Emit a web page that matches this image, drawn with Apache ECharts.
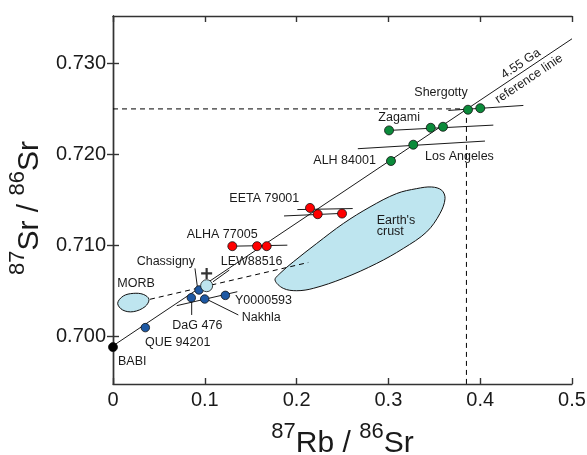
<!DOCTYPE html>
<html><head><meta charset="utf-8">
<script src="https://cdn.jsdelivr.net/npm/echarts@6/dist/echarts.min.js"></script>
<style>html,body{margin:0;padding:0;background:#fff}#c{width:587px;height:455px}</style>
</head><body><div id="c"></div>
<script>
const FONT = '"Liberation Sans", Arial, Helvetica, sans-serif';

// axis ranges and tick labels
const xRange = [0, 0.5];
const yRange = [0.6948, 0.7352];
const xTicks = [0, 0.1, 0.2, 0.3, 0.4, 0.5];
const yTicks = [0.700, 0.710, 0.720, 0.730];

// 4.55 Ga reference line end points [87Rb/86Sr, 87Sr/86Sr]
const refLine = [[0, 0.69899], [0.5, 0.7327]];

// data points
const babiPts = [[0, 0.69885]];
const bluePts = [[0.0352, 0.70099], [0.0853, 0.70427], [0.0937, 0.70512], [0.0999, 0.70413], [0.1224, 0.70453]];
const lightPts = [[0.102, 0.70559]];
const plusPts = [[0.102, 0.70694]];
const redPts = [[0.130, 0.70993], [0.1569, 0.70993], [0.1674, 0.70993], [0.2146, 0.71413], [0.2230, 0.71344], [0.2495, 0.71351]];
const greenPts = [[0.3028, 0.71928], [0.3271, 0.72107], [0.3007, 0.72264], [0.3461, 0.72293], [0.3595, 0.72304], [0.3867, 0.72491], [0.4001, 0.72508]];

// isochron tie lines
const tieLines = [
  [[0.0694, 0.7034], [0.1354, 0.70493]],
  [[0.130, 0.70993], [0.1899, 0.71004]],
  [[0.2008, 0.71395], [0.2611, 0.71406]],
  [[0.1863, 0.71325], [0.2473, 0.71352]],
  [[0.2667, 0.72063], [0.4052, 0.72147]],
  [[0.3007, 0.72264], [0.4143, 0.72322]],
  [[0.3653, 0.72483], [0.4470, 0.72538]]
];
// label leader lines
const leaderLines = [
  [[0.0893, 0.70749], [0.0920, 0.70539]],
  [[0.1089, 0.70602], [0.1267, 0.70731]],
  [[0.0857, 0.70421], [0.0857, 0.70238]],
  [[0.1021, 0.70410], [0.1365, 0.70238]]
];
// dashed lines
const dashedLines = [
  [[0, 0.725], [0.385, 0.725]],
  [[0.385, 0.725], [0.385, 0.6948]],
  [[0.0403, 0.7041], [0.2127, 0.70814]]
];
// fields
const crustField = [[0.1765,0.70621],[0.1855,0.70530],[0.2001,0.70504],[0.2182,0.70530],[0.2509,0.70640],[0.2873,0.70804],[0.3162,0.70968],[0.3417,0.71150],[0.3562,0.71352],[0.3617,0.71516],[0.3581,0.71607],[0.3472,0.71643],[0.3308,0.71625],[0.3090,0.71571],[0.2800,0.71424],[0.2509,0.71242],[0.2219,0.71023],[0.1964,0.70821],[0.1819,0.70694]];
const morbField = [[0.0051,0.70366],[0.0112,0.70446],[0.0221,0.70475],[0.0330,0.70464],[0.0392,0.70410],[0.0349,0.70329],[0.0221,0.70274],[0.0106,0.70292]];

// text labels [x, y, text]
const labels = [
  [0.0054, 0.69726, 'BABI'],
  [0.0349, 0.69934, 'QUE 94201'],
  [0.0646, 0.70125, 'DaG 476'],
  [0.1402, 0.70208, 'Nakhla'],
  [0.1329, 0.70399, 'Y0000593'],
  [0.0047, 0.70585, 'MORB'],
  [0.0258, 0.70829, 'Chassigny'],
  [0.1173, 0.70829, 'LEW88516'],
  [0.0803, 0.71125, 'ALHA 77005'],
  [0.1267, 0.71519, 'EETA 79001'],
  [0.2182, 0.71935, 'ALH 84001'],
  [0.3399, 0.71979, 'Los Angeles'],
  [0.2890, 0.72410, 'Zagami'],
  [0.3282, 0.72683, 'Shergotty'],
  [0.2873, 0.71278, "Earth's"],
  [0.2873, 0.71150, 'crust']
];
const refLabels = [
  [0.4442, 0.72995, '4.55 Ga'],
  [0.4532, 0.72830, 'reference linie']
];

const AX = '#333';
const lineSeg = (seg, dashed) => ({
  type: 'line', data: seg, symbol: 'none', silent: true, z: 3,
  lineStyle: { color: '#000', width: dashed ? 1 : 0.9, type: dashed ? [5, 4] : 'solid' }
});
const polySeries = (pts) => ({
  type: 'custom', silent: true, z: 1, data: [pts[0]],
  renderItem: (params, api) => ({
    type: 'polygon',
    shape: { points: pts.map(p => api.coord(p)), smooth: 0.35 },
    style: { fill: '#bee5ef', stroke: '#111', lineWidth: 1 }
  })
});
const scat = (data, color, size) => ({
  type: 'scatter', data, symbolSize: size, z: 5, silent: true,
  itemStyle: { color, borderColor: '#111', borderWidth: 0.8, opacity: 1 }
});

const series = [];
series.push(polySeries(crustField));
series.push(polySeries(morbField));
dashedLines.forEach(s => series.push(lineSeg(s, true)));
series.push(lineSeg(refLine, false));
tieLines.forEach(s => series.push(lineSeg(s, false)));
leaderLines.forEach(s => series.push(lineSeg(s, false)));
series.push(scat(babiPts, '#000', 9));
series.push(scat(bluePts, '#1d58a3', 8.5));
series.push(scat(lightPts, '#bee5ef', 12));
series.push(scat(redPts, '#ff0000', 9));
series.push(scat(greenPts, '#0b8a3a', 9));
series.push({
  type: 'scatter', data: plusPts, symbol: 'path://M4,0h2v4h4v2h-4v4h-2v-4h-4v-2h4z', symbolSize: 11, z: 5, silent: true,
  itemStyle: { color: '#000' }
});
series.push({
  type: 'custom', silent: true, z: 6, data: labels.map(l => [l[0], l[1]]),
  renderItem: (params, api) => {
    const l = labels[params.dataIndex];
    const p = api.coord([l[0], l[1]]);
    return { type: 'text', x: p[0], y: p[1],
      style: { text: l[2], font: '12.5px ' + FONT, fill: '#1a1a1a', textAlign: 'left', textVerticalAlign: 'middle' } };
  }
});
series.push({
  type: 'custom', silent: true, z: 6, data: refLabels.map(l => [l[0], l[1]]),
  renderItem: (params, api) => {
    const l = refLabels[params.dataIndex];
    const p = api.coord([l[0], l[1]]);
    const a = api.coord(refLine[0]), b = api.coord(refLine[1]);
    const ang = Math.atan2(a[1] - b[1], b[0] - a[0]);
    return { type: 'text', x: p[0], y: p[1], rotation: ang,
      style: { text: l[2], font: '12.5px ' + FONT, fill: '#1a1a1a', textAlign: 'center', textVerticalAlign: 'middle' } };
  }
});

const axisLineStyle = { color: AX, width: 1.4 };
const rich = {
  m: { fontSize: 30, fontFamily: FONT, color: '#1a1a1a', lineHeight: 38, verticalAlign: 'bottom' },
  s: { fontSize: 22, fontFamily: FONT, color: '#1a1a1a', lineHeight: 8, verticalAlign: 'top' }
};

const option = {
  animation: false,
  backgroundColor: '#fff',
  grid: { left: 113, right: 15, top: 16, bottom: 71, outerBoundsMode: 'none', containLabel: false },
  xAxis: [
    { type: 'value', min: xRange[0], max: xRange[1], interval: 0.1, position: 'bottom',
      axisLine: { show: true, lineStyle: axisLineStyle },
      axisTick: { show: true, inside: true, length: 6, lineStyle: axisLineStyle },
      axisLabel: { fontSize: 20, fontFamily: FONT, color: '#1a1a1a', margin: 6,
        formatter: v => (Math.abs(v) < 1e-9 ? '0' : v.toFixed(1)) },
      splitLine: { show: false },
      name: '{s|87}{m|Rb / }{s|86}{m|Sr}', nameLocation: 'middle', nameGap: 37,
      nameTextStyle: { rich } },
    { type: 'value', min: xRange[0], max: xRange[1], interval: 0.1, position: 'top',
      axisLine: { show: true, lineStyle: axisLineStyle },
      axisTick: { show: true, inside: true, length: 6, lineStyle: axisLineStyle },
      axisLabel: { show: false }, splitLine: { show: false } }
  ],
  yAxis: [
    { type: 'value', min: yRange[0], max: yRange[1], position: 'left',
      axisLine: { show: true, lineStyle: axisLineStyle },
      axisTick: { show: true, inside: true, length: 6, lineStyle: axisLineStyle, customValues: yTicks },
      axisLabel: { fontSize: 20, fontFamily: FONT, color: '#1a1a1a', margin: 7, customValues: yTicks,
        formatter: v => v.toFixed(3) },
      splitLine: { show: false },
      name: '{s|87}{m|Sr / }{s|86}{m|Sr}', nameLocation: 'middle', nameGap: 60,
      nameTextStyle: { rich, padding: [0, 16, 0, 0] } },
    { type: 'value', min: yRange[0], max: yRange[1], position: 'right',
      axisLine: { show: true, lineStyle: axisLineStyle },
      axisTick: { show: true, inside: true, length: 6, lineStyle: axisLineStyle, customValues: yTicks },
      axisLabel: { show: false }, splitLine: { show: false } }
  ],
  series
};
const chart = echarts.init(document.getElementById('c'), null, { renderer: 'canvas' });
chart.setOption(option);
</script></body></html>
